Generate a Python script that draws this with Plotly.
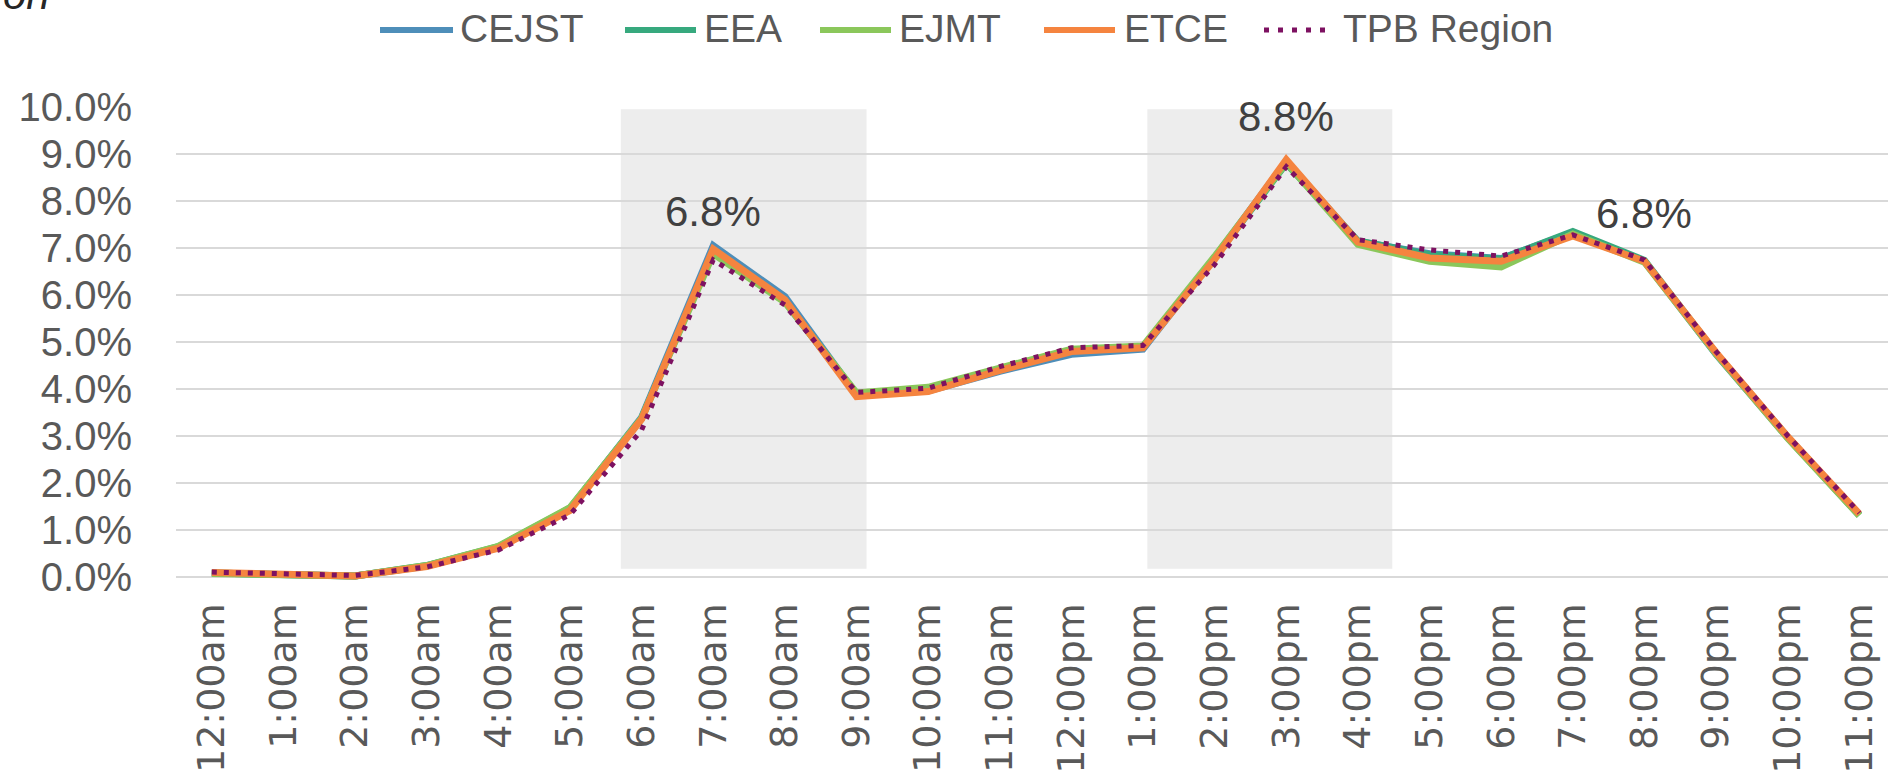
import plotly.graph_objects as go

# ---------------- data ----------------
hours = ["12:00am", "1:00am", "2:00am", "3:00am", "4:00am", "5:00am", "6:00am",
         "7:00am", "8:00am", "9:00am", "10:00am", "11:00am", "12:00pm", "1:00pm",
         "2:00pm", "3:00pm", "4:00pm", "5:00pm", "6:00pm", "7:00pm", "8:00pm",
         "9:00pm", "10:00pm", "11:00pm"]

cejst = [0.09, 0.05, 0.03, 0.24, 0.64, 1.46, 3.40, 7.05, 5.97, 3.88, 3.96, 4.38,
         4.74, 4.85, 6.80, 8.85, 7.14, 6.88, 6.78, 7.33, 6.72, 4.74, 2.97, 1.32]
eea = [0.09, 0.05, 0.03, 0.25, 0.65, 1.47, 3.38, 6.92, 5.86, 3.90, 4.00, 4.42,
       4.82, 4.90, 6.80, 8.80, 7.15, 6.86, 6.77, 7.35, 6.74, 4.76, 2.98, 1.32]
ejmt = [0.08, 0.05, 0.03, 0.25, 0.66, 1.48, 3.38, 6.88, 5.85, 3.92, 4.04, 4.45,
        4.85, 4.92, 6.82, 8.82, 7.08, 6.72, 6.60, 7.30, 6.70, 4.75, 2.96, 1.31]
etce = [0.10, 0.06, 0.03, 0.23, 0.62, 1.42, 3.36, 6.98, 5.90, 3.84, 3.95, 4.40,
        4.80, 4.88, 6.76, 8.88, 7.13, 6.79, 6.72, 7.26, 6.72, 4.78, 2.99, 1.35]
tpb = [0.11, 0.07, 0.04, 0.22, 0.58, 1.33, 3.13, 6.75, 5.79, 3.93, 4.02, 4.48,
       4.88, 4.93, 6.65, 8.73, 7.18, 6.96, 6.83, 7.28, 6.75, 4.80, 3.01, 1.37]

series_names = ["CEJST", "EEA", "EJMT", "ETCE", "TPB Region"]
series_values = [cejst, eea, ejmt, etce, tpb]

y_tick_vals = [0, 1, 2, 3, 4, 5, 6, 7, 8, 9, 10]
y_tick_text = ["0.0%", "1.0%", "2.0%", "3.0%", "4.0%", "5.0%", "6.0%", "7.0%",
               "8.0%", "9.0%", "10.0%"]

peak_labels = ["6.8%", "8.8%", "6.8%"]

# ---------------- styles ----------------
colors = ["#4E8EB9", "#37A97E", "#8BC75B", "#F5843F", "#7D1161"]
widths = [7, 7, 7, 7, 5]
dashes = ["solid", "solid", "solid", "solid", "5px,7px"]
FONT = "Liberation Sans, Arial, sans-serif"
XFONT = "DejaVu Sans, Liberation Sans, sans-serif"
TXT = "#595959"

W, H = 1888, 781
L, R, T, B = 176, 0, 107, 199
plot_w = W - L - R
plot_h = H - T - B


def px_x(p):
    return (p - L) / plot_w


def px_y(p):
    return (H - B - p) / plot_h


fig = go.Figure()

for name, vals, c, w, d in zip(series_names, series_values, colors, widths, dashes):
    fig.add_trace(go.Scatter(
        x=hours, y=vals, name=name, mode="lines",
        line=dict(color=c, width=w, dash=d),
        showlegend=False, hoverinfo="x+y+name",
    ))

# shaded peak periods
for x0, x1 in [(5.71, 9.14), (13.06, 16.48)]:
    fig.add_shape(type="rect", xref="x", yref="y", x0=x0, x1=x1, y0=0.18, y1=9.95,
                  fillcolor="#EDEDED", line=dict(width=0), layer="below")

# peak annotations
for (xp, yv), txt in zip([(7, 7.77), (15, 9.79), (20, 7.74)], peak_labels):
    fig.add_annotation(x=xp, y=yv, xref="x", yref="y", text=txt, showarrow=False,
                       font=dict(family=FONT, size=42, color="#404040"),
                       xanchor="center", yanchor="middle")

# manual legend
leg_geom = [(380, 453, 458), (625, 696, 702), (820, 891, 897), (1044, 1115, 1122),
            (1264, 1334, 1341)]
leg_y = 30
for (l0, l1, tx), name, c, d in zip(leg_geom, series_names, colors, dashes):
    if d == "solid":
        fig.add_shape(type="line", xref="paper", yref="paper",
                      x0=px_x(l0), x1=px_x(l1), y0=px_y(leg_y), y1=px_y(leg_y),
                      line=dict(color=c, width=6))
    else:
        fig.add_shape(type="line", xref="paper", yref="paper",
                      x0=px_x(l0), x1=px_x(l1), y0=px_y(leg_y), y1=px_y(leg_y),
                      line=dict(color=c, width=5, dash="5px,9px"))
    fig.add_annotation(xref="paper", yref="paper", x=px_x(tx), y=px_y(leg_y - 2),
                       text=name, showarrow=False, xanchor="left", yanchor="middle",
                       font=dict(family=FONT, size=39, color=TXT))

# remnant of the cropped chart title (only its lower edge shows in the reference)
fig.add_annotation(xref="paper", yref="paper", x=px_x(52), y=px_y(20),
                   text="<i>on</i>", showarrow=False, xanchor="right", yanchor="bottom",
                   font=dict(family=FONT, size=42, color="#262626"))

fig.update_layout(
    width=W, height=H,
    margin=dict(l=L, r=R, t=T, b=B, pad=0, autoexpand=False),
    paper_bgcolor="white", plot_bgcolor="white",
    font=dict(family=FONT, color=TXT),
    showlegend=False,
)

fig.update_xaxes(
    type="category", range=[-0.5, 23.4], automargin=False,
    showgrid=False, zeroline=False, showline=False,
    ticks="outside", ticklen=5, tickcolor="rgba(0,0,0,0)",
    tickangle=-90, tickfont=dict(family=XFONT, size=38, color=TXT),
)
fig.update_yaxes(
    range=[-0.1, 10.0], automargin=False,
    tickvals=y_tick_vals, ticktext=y_tick_text,
    showgrid=True, gridcolor="#D9D9D9", gridwidth=2,
    zeroline=False, showline=False,
    ticks="outside", ticklen=35, tickcolor="rgba(0,0,0,0)",
    tickfont=dict(family=FONT, size=40, color=TXT),
)

fig.write_html(
    "out.html",
    config={"displayModeBar": False},
    post_script="document.body.style.margin='0';document.body.style.overflow='hidden';",
)
